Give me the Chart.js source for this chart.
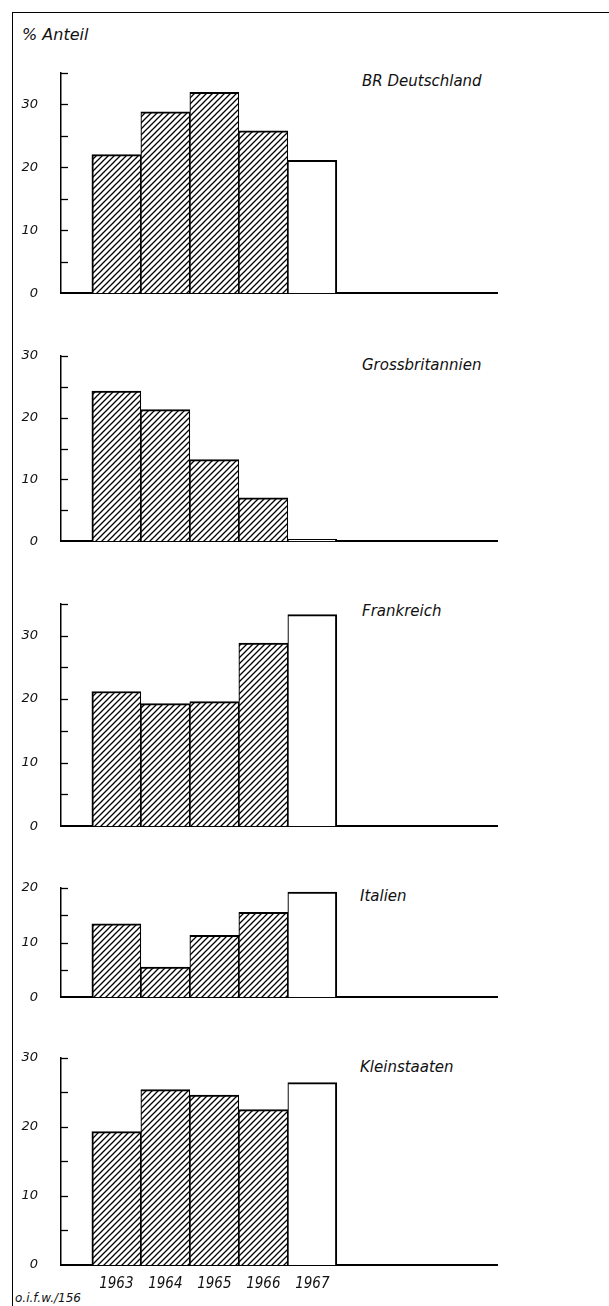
<!DOCTYPE html>
<html>
<head>
<meta charset="utf-8">
<script src="https://cdn.jsdelivr.net/npm/chart.js@4/dist/chart.umd.min.js"></script>
<style>
  html, body { margin:0; padding:0; background:#fff; }
  body { width:609px; height:1306px; position:relative; overflow:hidden; font-family:"DejaVu Sans", sans-serif; }
  #frame { position:absolute; left:12px; top:12px; width:600px; height:1300px; border-left:1.5px solid #000; border-top:1.5px solid #000; }
  canvas { position:absolute; left:0; }
  .lbl { position:absolute; font-style:italic; color:#111; white-space:nowrap; transform:translateY(-50%); }
</style>
</head>
<body>
<div id="frame"></div>
<div class="lbl" style="left:22px;top:34px;font-size:16px;">% Anteil</div>
<div class="lbl" style="left:362px;top:81px;font-size:15px;">BR Deutschland</div>
<div class="lbl" style="left:362px;top:365px;font-size:15px;">Grossbritannien</div>
<div class="lbl" style="left:362px;top:611px;font-size:15px;">Frankreich</div>
<div class="lbl" style="left:360px;top:896px;font-size:15px;">Italien</div>
<div class="lbl" style="left:360px;top:1067px;font-size:15px;">Kleinstaaten</div>
<div class="lbl" style="left:15px;top:1298px;font-size:12px;">o.i.f.w./156</div>
<script>
// ---- data ----
const years = [1963, 1964, 1965, 1966, 1967];
const panelNames = ["BR Deutschland", "Grossbritannien", "Frankreich", "Italien", "Kleinstaaten"];
const brDeutschland = [22.0, 28.8, 31.9, 25.8, 21.1];
const grossbritannien = [24.3, 21.3, 13.2, 7.0, 0.3];
const frankreich = [21.2, 19.3, 19.6, 28.8, 33.3];
const italien = [13.4, 5.5, 11.3, 15.5, 19.2];
const kleinstaaten = [19.3, 25.4, 24.6, 22.5, 26.4];
const yMaxima = [35, 30, 35, 20, 30];
const yStep = 5;
const yLabelStep = 10;

const seriesList = [brDeutschland, grossbritannien, frankreich, italien, kleinstaaten];

// layout (pixels)
const axisTops = [52, 335, 583, 867, 1037];
const baselines = [314, 562, 847, 1018, 1265];
const PAD = 10;

// hatch pattern
function makeHatch() {
  const s = 6;
  const c = document.createElement('canvas');
  c.width = s; c.height = s;
  const g = c.getContext('2d');
  g.fillStyle = '#fff'; g.fillRect(0, 0, s, s);
  g.strokeStyle = '#000'; g.lineWidth = 1.3;
  g.beginPath();
  g.moveTo(-1, s + 1); g.lineTo(s + 1, -1);
  g.moveTo(-1, 1); g.lineTo(1, -1);
  g.moveTo(s - 1, s + 1); g.lineTo(s + 1, s - 1);
  g.stroke();
  return c;
}
const hatchCanvas = makeHatch();

const innerTicks = {
  id: 'innerTicks',
  afterDraw(chart) {
    const ys = chart.scales.y;
    const ctx = chart.ctx;
    const left = chart.chartArea.left;
    ctx.save();
    ctx.strokeStyle = '#000';
    ctx.lineWidth = 1.3;
    ys.ticks.forEach(t => {
      if (t.value === 0) return;
      const py = Math.round(ys.getPixelForValue(t.value)) + 0.5;
      ctx.beginPath();
      ctx.moveTo(left, py);
      ctx.lineTo(left + 7, py);
      ctx.stroke();
    });
    ctx.restore();
  }
};

seriesList.forEach((vals, p) => {
  const isLast = p === seriesList.length - 1;
  const bottomSpace = isLast ? (1306 - baselines[p]) : PAD;
  const top = axisTops[p] - PAD;
  const height = baselines[p] - axisTops[p] + PAD + bottomSpace;
  const cv = document.createElement('canvas');
  cv.width = 609; cv.height = height;
  cv.style.top = top + 'px';
  cv.style.width = '609px'; cv.style.height = height + 'px';
  document.body.appendChild(cv);
  const ctx = cv.getContext('2d');
  const pattern = ctx.createPattern(hatchCanvas, 'repeat');

  new Chart(ctx, {
    type: 'bar',
    data: {
      datasets: [{
        label: panelNames[p],
        data: years.map((yr, i) => ({ x: yr, y: vals[i] })),
        backgroundColor: years.map((yr, i) => i < years.length - 1 ? pattern : '#fff'),
        borderColor: '#000',
        borderWidth: (c) => ({
          top: 2,
          left: c.dataIndex === 0 ? 2 : 1.2,
          right: c.dataIndex === years.length - 1 ? 2 : 1.2,
          bottom: 0
        }),
        borderSkipped: false,
        barPercentage: 1,
        categoryPercentage: 1
      }]
    },
    options: {
      responsive: false,
      devicePixelRatio: 1,
      animation: false,
      layout: { padding: { left: 0, right: 112, top: PAD, bottom: isLast ? 0 : PAD } },
      plugins: { legend: { display: false }, tooltip: { enabled: false } },
      scales: {
        x: {
          type: 'linear',
          offset: false,
          min: 1961.87,
          max: 1970.77,
          grid: { display: false, drawTicks: false, offset: false },
          border: { display: true, color: '#000', width: 2 },
          afterBuildTicks: (s) => { s.ticks = years.map(v => ({ value: v })); },
          afterFit: (s) => { s.height = isLast ? bottomSpace : 0; },
          ticks: {
            display: isLast,
            autoSkip: false,
            maxRotation: 0,
            padding: 10,
            color: '#111',
            font: { family: '"DejaVu Sans Condensed", "DejaVu Sans", sans-serif', size: 15, style: 'italic' },
            callback: (v) => String(v)
          }
        },
        y: {
          min: 0,
          max: yMaxima[p],
          grid: { display: false, drawTicks: false },
          border: { display: true, color: '#000', width: 1.5 },
          afterFit: (s) => { s.width = 61; },
          ticks: {
            stepSize: yStep,
            autoSkip: false,
            padding: 23,
            color: '#111',
            font: { family: '"DejaVu Sans", sans-serif', size: 13, style: 'italic' },
            callback: (v) => (v % yLabelStep === 0 ? String(v) : '')
          }
        }
      }
    },
    plugins: [innerTicks]
  });
});
</script>
</body>
</html>
